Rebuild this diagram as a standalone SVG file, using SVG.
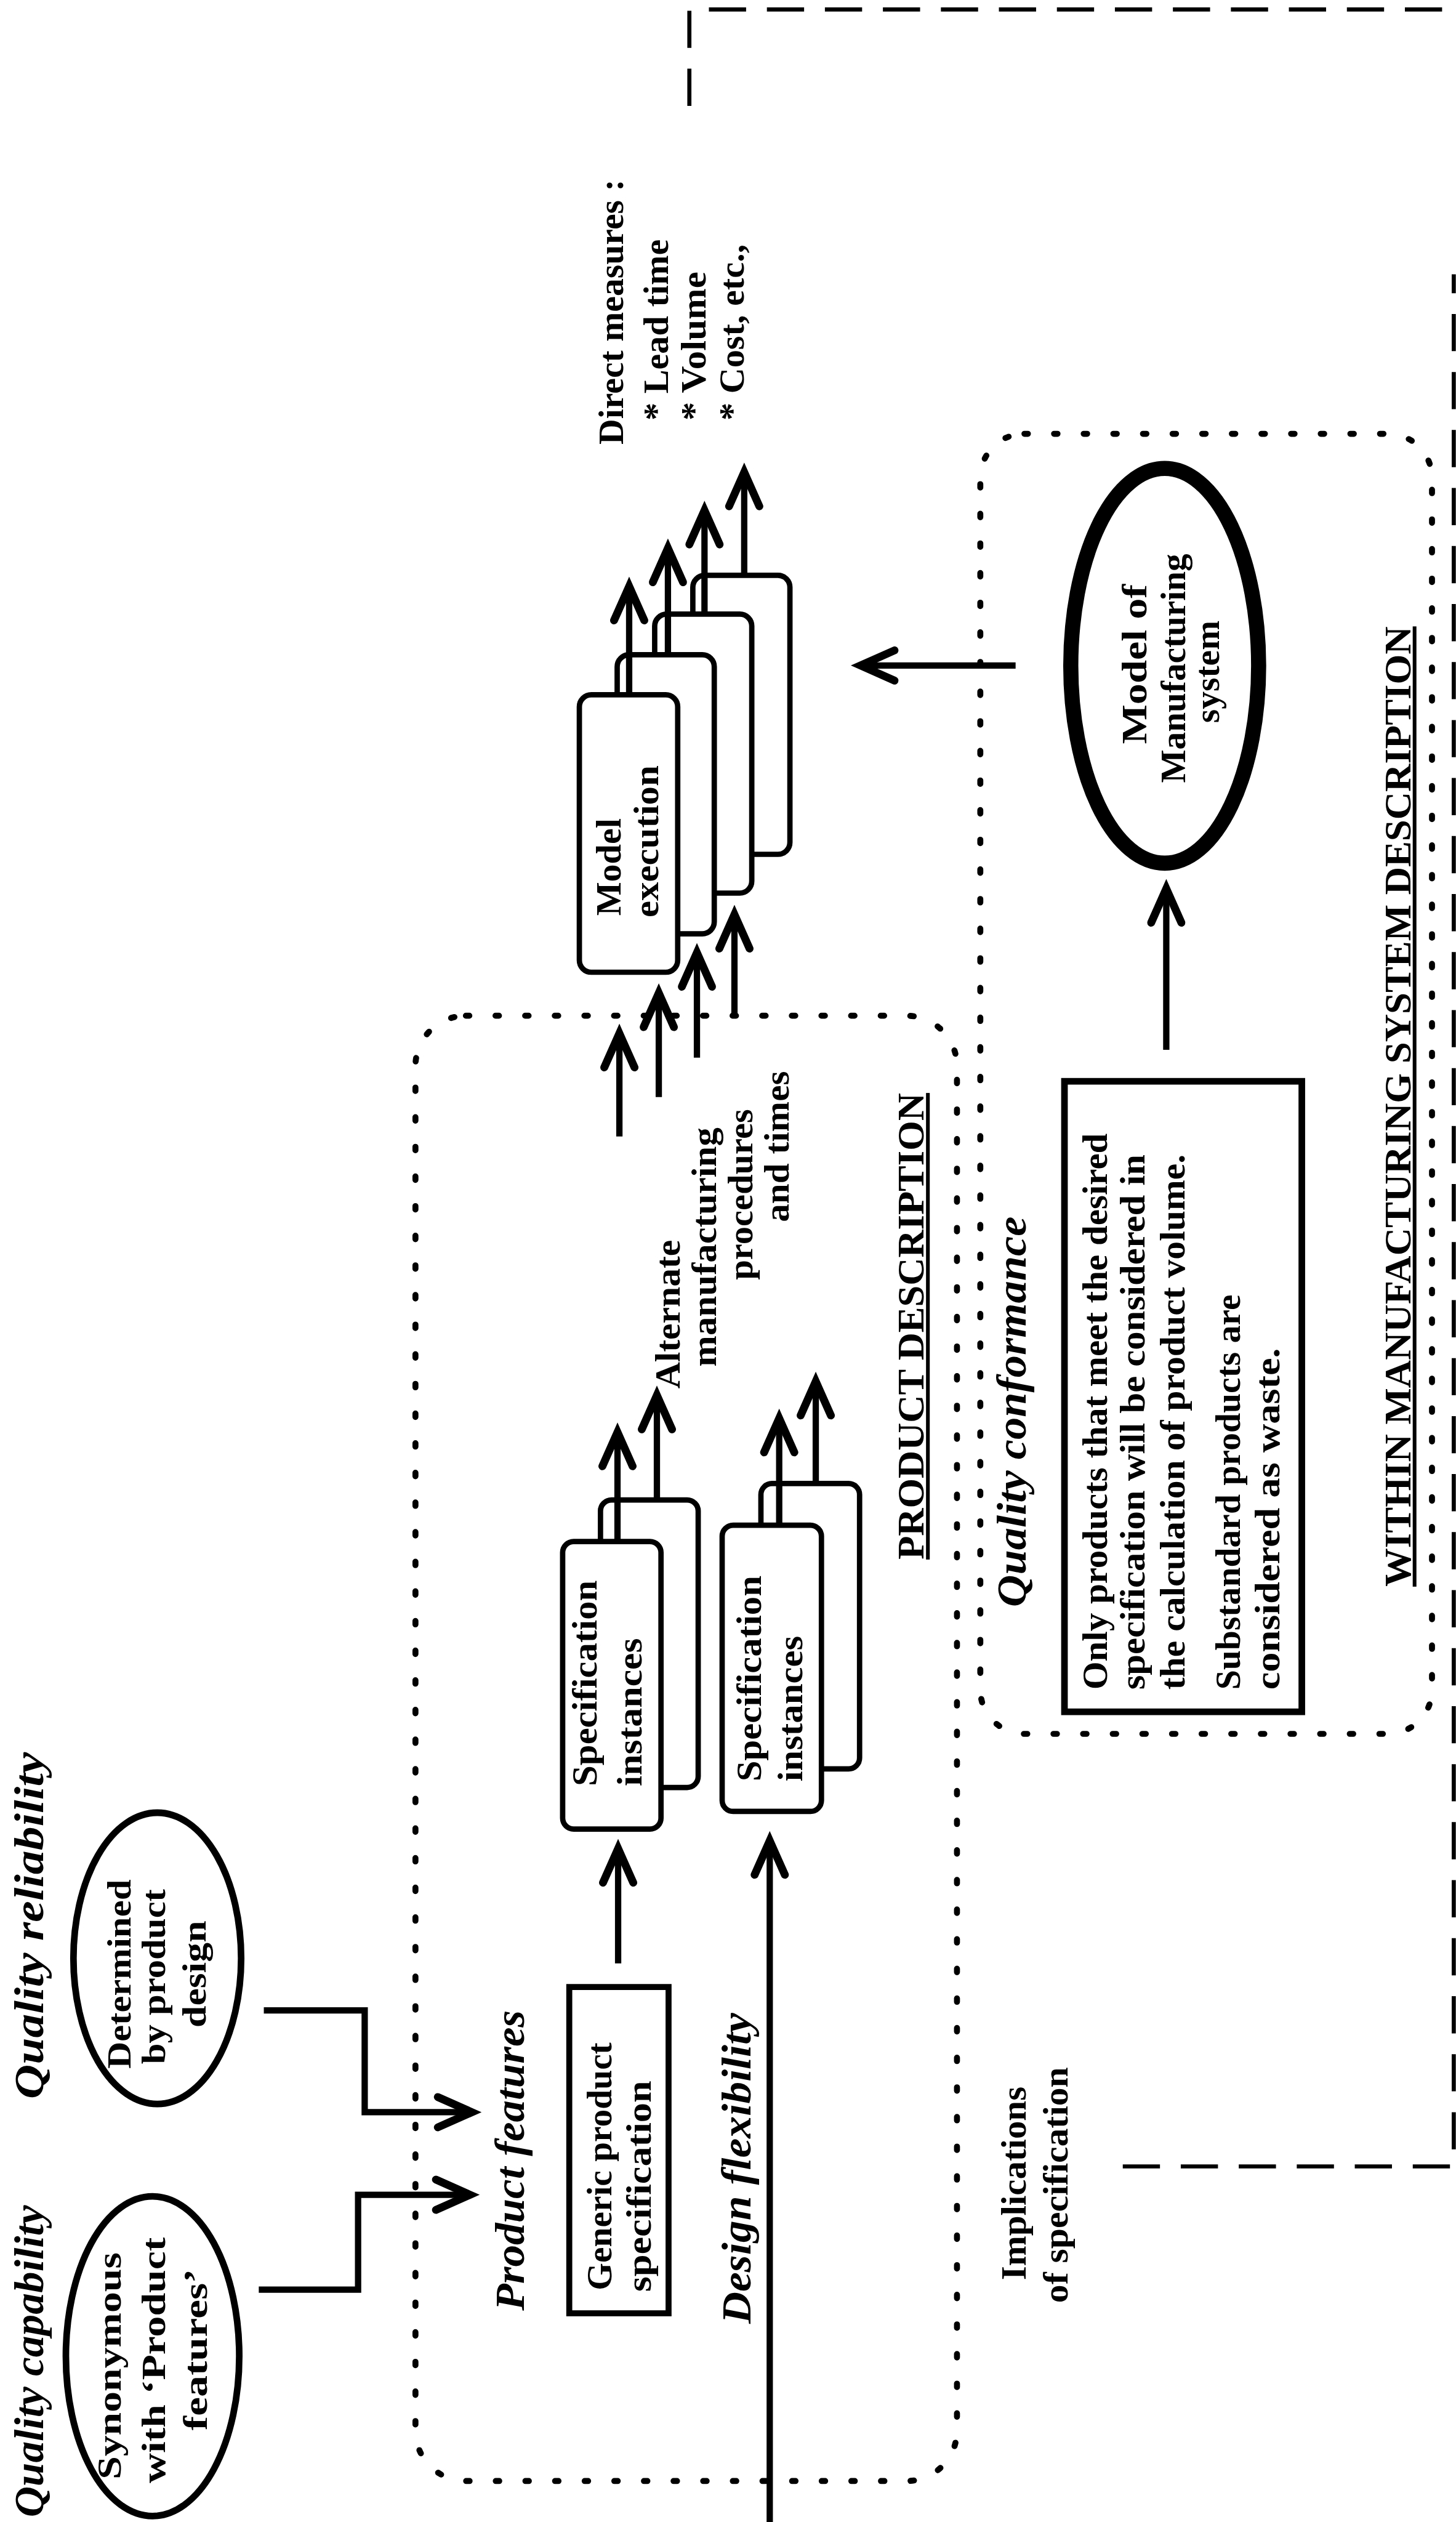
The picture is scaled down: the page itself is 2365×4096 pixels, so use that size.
<svg xmlns="http://www.w3.org/2000/svg" width="2365" height="4096" viewBox="0 0 2365 4096">
<style>
  text { font-family: "Liberation Serif", "Times New Roman", serif; fill: #000; font-weight: bold; }
  .t { font-size: 112px; }
  .e { font-size: 108px; }
  .lbl { font-size: 132px; font-style: italic; }
  .hd { font-size: 118px; text-decoration: underline; }
  .ln { fill: none; stroke: #000; stroke-width: 20; stroke-linecap: butt; stroke-linejoin: miter; }
  .arr { marker-end: url(#ah); }
  .box { fill: #fff; stroke: #000; stroke-width: 17; }
  .dot { fill: none; stroke: #000; stroke-width: 19; stroke-linecap: round; stroke-dasharray: 11 83; }
  .dash { fill: none; stroke: #000; stroke-width: 13; stroke-dasharray: 118 66; }
</style>
<defs>
  <marker id="ah" markerUnits="userSpaceOnUse" orient="auto" style="overflow:visible" refX="0" refY="0" markerWidth="10" markerHeight="10">
    <path d="M-108,-48 L0,0 L-108,48" fill="none" stroke="#000" stroke-width="25" stroke-linecap="round" stroke-linejoin="miter"/>
  </marker>
</defs>
<rect width="2365" height="4096" fill="#fff"/>
<g transform="scale(0.512)">

  <!-- outer long-dash boundary -->
  <g id="boundary">
    <path class="dash" d="M2187,336 V30 H4640"/>
    <path class="dash" d="M3562,6872 H4612 V870"/>
  </g>

  <!-- dotted regions -->
  <g id="product-description-region">
    <rect class="dot" x="1318" y="3222" width="1718" height="4648" rx="160" ry="160"/>
    <text class="hd" transform="translate(2930,4947) rotate(-90)" textLength="1480" lengthAdjust="spacingAndGlyphs">PRODUCT DESCRIPTION</text>
  </g>
  <g id="quality-conformance-region">
    <rect class="dot" x="3110" y="1376" width="1433" height="4124" rx="140" ry="140"/>
    <text class="lbl" transform="translate(3253,4478) rotate(-90)" text-anchor="middle" textLength="1239" lengthAdjust="spacingAndGlyphs">Quality conformance</text>
  </g>

  <!-- connectors -->
  <g id="connectors">
    <path class="ln arr" d="M821,7263 H1136 V6962 H1491"/>
    <path class="ln arr" d="M837,6377 H1157 V6700 H1497"/>
    <path class="ln arr" d="M1961,6228 V5864"/>
    <path class="ln arr" d="M2442,8010 V5839"/>
    <path class="ln arr" d="M2084,4758 V4426"/>
    <path class="ln arr" d="M2588,4706 V4382"/>
    <path class="ln arr" d="M1965,3605 V3278"/>
    <path class="ln arr" d="M2090,3480 V3150"/>
    <path class="ln arr" d="M2211,3355 V3022"/>
    <path class="ln arr" d="M2330,3230 V2901"/>
    <path class="ln arr" d="M3222,2111 H2730"/>
    <path class="ln arr" d="M3700,3330 V2819"/>
  </g>

  <!-- quality capability -->
  <g id="quality-capability">
    <text class="lbl" transform="translate(137,7490) rotate(-90)" text-anchor="middle" textLength="990" lengthAdjust="spacingAndGlyphs">Quality capability</text>
    <ellipse cx="484" cy="7474" rx="275" ry="507" fill="none" stroke="#000" stroke-width="21"/>
    <text class="e" transform="translate(382,7505) rotate(-90)" text-anchor="middle" textLength="720" lengthAdjust="spacingAndGlyphs">Synonymous</text>
    <text class="e" transform="translate(524,7487) rotate(-90)" text-anchor="middle" textLength="780" lengthAdjust="spacingAndGlyphs">with ‘Product</text>
    <text class="e" transform="translate(657,7453) rotate(-90)" text-anchor="middle" textLength="513" lengthAdjust="spacingAndGlyphs">features’</text>
  </g>

  <!-- quality reliability -->
  <g id="quality-reliability">
    <text class="lbl" transform="translate(137,6108) rotate(-90)" text-anchor="middle" textLength="1100" lengthAdjust="spacingAndGlyphs">Quality reliability</text>
    <ellipse cx="499" cy="6212" rx="266" ry="462" fill="none" stroke="#000" stroke-width="21"/>
    <text class="e" transform="translate(414,6262) rotate(-90)" text-anchor="middle" textLength="600" lengthAdjust="spacingAndGlyphs">Determined</text>
    <text class="e" transform="translate(524,6270) rotate(-90)" text-anchor="middle" textLength="555" lengthAdjust="spacingAndGlyphs">by product</text>
    <text class="e" transform="translate(653,6262) rotate(-90)" text-anchor="middle" textLength="339" lengthAdjust="spacingAndGlyphs">design</text>
  </g>

  <!-- product features / generic specification -->
  <g id="product-features">
    <text class="lbl" transform="translate(1663,6853) rotate(-90)" text-anchor="middle" textLength="953" lengthAdjust="spacingAndGlyphs">Product features</text>
    <rect x="1806" y="6303" width="315" height="1035" fill="#fff" stroke="#000" stroke-width="19"/>
    <text class="t" transform="translate(1939,7265) rotate(-90)" textLength="786" lengthAdjust="spacingAndGlyphs">Generic product</text>
    <text class="t" transform="translate(2064,7270) rotate(-90)" textLength="670" lengthAdjust="spacingAndGlyphs">specification</text>
  </g>

  <g id="design-flexibility">
    <text class="lbl" transform="translate(2380,6878) rotate(-90)" text-anchor="middle" textLength="986" lengthAdjust="spacingAndGlyphs">Design flexibility</text>
  </g>

  <!-- specification instance stacks -->
  <g id="spec-instances-a">
    <rect class="box" x="1905" y="4758" width="310" height="912" rx="35"/>
    <rect class="box" x="1785" y="4890" width="312" height="912" rx="35"/>
    <text class="t" transform="translate(1892,5666) rotate(-90)" textLength="653" lengthAdjust="spacingAndGlyphs">Specification</text>
    <text class="t" transform="translate(2035,5666) rotate(-90)" textLength="470" lengthAdjust="spacingAndGlyphs">instances</text>
  </g>
  <g id="spec-instances-b">
    <rect class="box" x="2414" y="4706" width="313" height="905" rx="35"/>
    <rect class="box" x="2291" y="4838" width="315" height="908" rx="35"/>
    <text class="t" transform="translate(2414,5651) rotate(-90)" textLength="653" lengthAdjust="spacingAndGlyphs">Specification</text>
    <text class="t" transform="translate(2544,5651) rotate(-90)" textLength="462" lengthAdjust="spacingAndGlyphs">instances</text>
  </g>
  <!-- arrows leaving the front instance cards, drawn over the back cards -->
  <g id="spec-arrows">
    <path class="ln arr" d="M1959,4890 V4543"/>
    <path class="ln arr" d="M2472,4838 V4499"/>
  </g>

  <g id="alternate-procedures">
    <text class="t" transform="translate(2157,4169) rotate(-90)" text-anchor="middle" textLength="472" lengthAdjust="spacingAndGlyphs">Alternate</text>
    <text class="t" transform="translate(2271,3956) rotate(-90)" text-anchor="middle" textLength="759" lengthAdjust="spacingAndGlyphs">manufacturing</text>
    <text class="t" transform="translate(2386,3789) rotate(-90)" text-anchor="middle" textLength="542" lengthAdjust="spacingAndGlyphs">procedures</text>
    <text class="t" transform="translate(2501,3637) rotate(-90)" text-anchor="middle" textLength="479" lengthAdjust="spacingAndGlyphs">and times</text>
  </g>

  <!-- model execution stack -->
  <g id="model-execution">
    <rect class="box" x="2198" y="1825" width="308" height="885" rx="38"/>
    <rect class="box" x="2077" y="1948" width="308" height="885" rx="38"/>
    <rect class="box" x="1958" y="2077" width="308" height="885" rx="38"/>
    <rect class="box" x="1838" y="2204" width="312" height="880" rx="38"/>
    <text class="t" transform="translate(1968,2905) rotate(-90)" textLength="309" lengthAdjust="spacingAndGlyphs">Model</text>
    <text class="t" transform="translate(2088,2910) rotate(-90)" textLength="482" lengthAdjust="spacingAndGlyphs">execution</text>
    <path class="ln arr" d="M1996,2204 V1860"/>
    <path class="ln arr" d="M2119,2077 V1739"/>
    <path class="ln arr" d="M2235,1948 V1619"/>
    <path class="ln arr" d="M2361,1825 V1498"/>
  </g>

  <g id="direct-measures">
    <text class="t" transform="translate(1976,1410) rotate(-90)" textLength="841" lengthAdjust="spacingAndGlyphs">Direct measures :</text>
    <text class="t" transform="translate(2120,1334) rotate(-90)" textLength="575" lengthAdjust="spacingAndGlyphs">* Lead time</text>
    <text class="t" transform="translate(2239,1334) rotate(-90)" textLength="472" lengthAdjust="spacingAndGlyphs">* Volume</text>
    <text class="t" transform="translate(2359,1334) rotate(-90)" textLength="559" lengthAdjust="spacingAndGlyphs">* Cost, etc.,</text>
  </g>

  <!-- manufacturing system model -->
  <g id="manufacturing-model">
    <ellipse cx="3695" cy="2112" rx="298" ry="626" fill="#fff" stroke="#000" stroke-width="48"/>
    <text class="t" transform="translate(3637,2107) rotate(-90)" text-anchor="middle" textLength="507" lengthAdjust="spacingAndGlyphs">Model of</text>
    <text class="t" transform="translate(3760,2120) rotate(-90)" text-anchor="middle" textLength="727" lengthAdjust="spacingAndGlyphs">Manufacturing</text>
    <text class="t" transform="translate(3868,2131) rotate(-90)" text-anchor="middle" textLength="325" lengthAdjust="spacingAndGlyphs">system</text>
  </g>

  <g id="conformance-note">
    <rect x="3377" y="3430" width="753" height="2000" fill="#fff" stroke="#000" stroke-width="21"/>
    <text class="t" transform="translate(3511,5360) rotate(-90)" textLength="1765" lengthAdjust="spacingAndGlyphs">Only products that meet the desired</text>
    <text class="t" transform="translate(3630,5360) rotate(-90)" textLength="1698" lengthAdjust="spacingAndGlyphs">specification will be considered in</text>
    <text class="t" transform="translate(3758,5360) rotate(-90)" textLength="1698" lengthAdjust="spacingAndGlyphs">the calculation of product volume.</text>
    <text class="t" transform="translate(3934,5360) rotate(-90)" textLength="1254" lengthAdjust="spacingAndGlyphs">Substandard products are</text>
    <text class="t" transform="translate(4058,5360) rotate(-90)" textLength="1084" lengthAdjust="spacingAndGlyphs">considered as waste.</text>
  </g>

  <g id="implications">
    <text class="t" transform="translate(3253,6926) rotate(-90)" text-anchor="middle" textLength="614" lengthAdjust="spacingAndGlyphs">Implications</text>
    <text class="t" transform="translate(3387,6931) rotate(-90)" text-anchor="middle" textLength="748" lengthAdjust="spacingAndGlyphs">of specification</text>
  </g>

  <g id="system-title">
    <text class="hd" transform="translate(4474,5033) rotate(-90)" textLength="3046" lengthAdjust="spacingAndGlyphs">WITHIN MANUFACTURING SYSTEM DESCRIPTION</text>
  </g>
</g>
</svg>
